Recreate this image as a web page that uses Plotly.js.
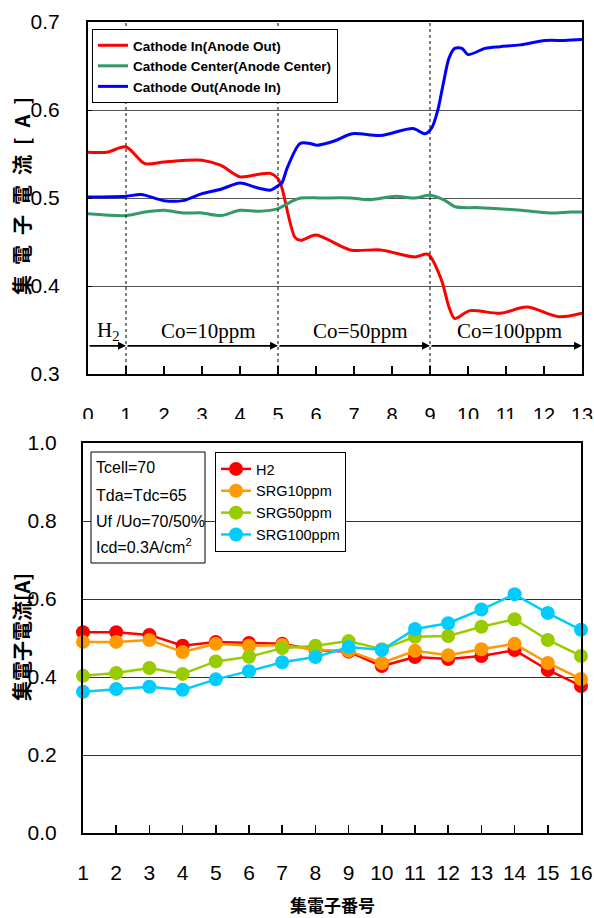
<!DOCTYPE html>
<html>
<head>
<meta charset="utf-8">
<script src="https://cdn.plot.ly/plotly-3.0.1.min.js"></script>
<style>html,body{margin:0;padding:0;background:#fff;}#chart{width:594px;height:918px;}</style>
</head>
<body>
<div id="chart"></div>
<script>
// ---- Top chart data (collector position 0..13) ----
const cathodeInX  = [0,0.5,1,1.5,2,3,3.5,4,4.5,4.8,5.0,5.1,5.45,5.6,6.0,6.9,7.7,8.6,8.95,9.3,9.5,9.65,10.05,10.85,11.55,12.4,13];
const cathodeInY  = [0.552,0.552,0.558,0.539,0.541,0.543,0.537,0.524,0.527,0.528,0.522,0.512,0.455,0.452,0.458,0.441,0.441,0.433,0.436,0.407,0.376,0.363,0.372,0.369,0.376,0.365,0.369];
const centerX     = [0,1,1.5,2,2.5,3,3.5,4,4.5,5,5.4,5.6,6.1,6.9,7.4,8.1,8.6,9.0,9.4,9.66,10.3,11.4,12.15,12.7,13];
const centerY     = [0.482,0.480,0.484,0.486,0.483,0.483,0.480,0.486,0.485,0.488,0.497,0.500,0.500,0.500,0.498,0.502,0.500,0.503,0.497,0.490,0.489,0.486,0.483,0.484,0.484];
const cathodeOutX = [0,1,1.4,2,2.5,3,3.5,4,4.5,4.8,5.0,5.1,5.25,5.58,5.84,6.03,6.5,6.95,7.7,8.55,8.87,9.05,9.2,9.35,9.5,9.65,9.84,10.0,10.45,10.84,11.37,12.03,12.55,13];
const cathodeOutY = [0.501,0.502,0.504,0.497,0.497,0.505,0.510,0.517,0.511,0.509,0.514,0.517,0.535,0.562,0.562,0.560,0.565,0.573,0.571,0.579,0.573,0.580,0.599,0.630,0.659,0.670,0.670,0.663,0.670,0.672,0.674,0.679,0.679,0.680];
const topNames = ["Cathode In(Anode Out)","Cathode Center(Anode Center)","Cathode Out(Anode In)"];
const topTicks = [0,1,2,3,4,5,6,7,8,9,10,11,12,13];
const phaseBounds = [0,1,5,9,13];
const phaseLabels = ["H<sub>2</sub>","Co=10ppm","Co=50ppm","Co=100ppm"];
const phaseLabelX = [0.53,3.16,7.16,11.1];

// ---- Bottom chart data (collector number 1..16) ----
const collector = [1,2,3,4,5,6,7,8,9,10,11,12,13,14,15,16];
const h2     = [0.515,0.515,0.508,0.480,0.490,0.487,0.485,0.469,0.465,0.428,0.451,0.446,0.454,0.469,0.418,0.377];
const srg10  = [0.490,0.490,0.495,0.464,0.485,0.480,0.482,0.470,0.467,0.436,0.467,0.456,0.471,0.485,0.436,0.395];
const srg50  = [0.403,0.410,0.423,0.408,0.440,0.452,0.474,0.480,0.492,0.471,0.503,0.505,0.529,0.548,0.495,0.454];
const srg100 = [0.362,0.369,0.375,0.367,0.394,0.415,0.438,0.451,0.477,0.469,0.523,0.538,0.573,0.612,0.564,0.521];
const bottomNames = ["H2","SRG10ppm","SRG50ppm","SRG100ppm"];
const conditions = ["Tcell=70","Tda=Tdc=65","Uf /Uo=70/50%","Icd=0.3A/cm<sup>2</sup>"];

const SANS = "Liberation Sans, Arial, sans-serif";
const CJK = "Noto Sans CJK JP, sans-serif";
const SERIF = "Liberation Serif, Times New Roman, serif";

const topColors = ["#ff0000","#339966","#0000ff"];
const bottomColors = ["#ff0000","#ff9900","#99cc00","#00ccff"];

const traces = [];
[[cathodeInX,cathodeInY],[centerX,centerY],[cathodeOutX,cathodeOutY]].forEach((d,i)=>{
  traces.push({x:d[0],y:d[1],type:"scatter",mode:"lines",name:topNames[i],
    line:{color:topColors[i],width:3,shape:"spline",smoothing:0.8},
    xaxis:"x",yaxis:"y",legend:"legend"});
});
[h2,srg10,srg50,srg100].forEach((d,i)=>{
  traces.push({x:collector,y:d,type:"scatter",mode:"lines+markers",name:bottomNames[i],
    line:{color:bottomColors[i],width:2.5},marker:{color:bottomColors[i],size:14},
    cliponaxis:false,xaxis:"x2",yaxis:"y2",legend:"legend2"});
});

const P = (px)=>1-px/918;
const annotations = [];
// phase arrows and labels
for(let i=0;i<phaseBounds.length-1;i++){
  annotations.push({xref:"x",yref:"y",axref:"x",ayref:"y",x:phaseBounds[i+1],y:0.332,ax:phaseBounds[i],ay:0.332,
    text:"",showarrow:true,arrowhead:2,arrowsize:1,arrowwidth:1.6,arrowcolor:"#000"});
  annotations.push({xref:"x",yref:"y",x:phaseLabelX[i],y:0.349,xanchor:"center",yanchor:"middle",text:phaseLabels[i],showarrow:false,
    font:{family:SERIF,size:21,color:"#000"}});
}
// axis titles
annotations.push({xref:"paper",yref:"paper",x:22/594,y:P(196),xanchor:"center",yanchor:"middle",
  text:"<b>集\u2002電\u2002子\u2002電\u2002流\u2002[\u2002A\u2002]</b>",
  textangle:-90,showarrow:false,font:{family:CJK,size:20,color:"#000"}});
annotations.push({xref:"paper",yref:"paper",x:21/594,y:P(637),xanchor:"center",yanchor:"middle",text:"<b>集電子電流[A]</b>",
  textangle:-90,showarrow:false,font:{family:CJK,size:20,color:"#000"}});
annotations.push({xref:"paper",yref:"paper",x:333/594,y:P(904),xanchor:"center",yanchor:"middle",text:"<b>集電子番号</b>",
  showarrow:false,font:{family:CJK,size:17,color:"#000"}});
// conditions box lines
const condY = [468,495,521,546];
conditions.forEach((t,i)=>{
  annotations.push({xref:"paper",yref:"paper",x:94/594,y:P(condY[i]),xanchor:"left",yanchor:"middle",align:"left",
    text:t,showarrow:false,font:{family:SANS,size:16,color:"#000"}});
});

const shapes = [];
[1,5,9].forEach(v=>{
  shapes.push({type:"line",xref:"x",yref:"y",x0:v,x1:v,y0:0.3,y1:0.7,line:{color:"#000",width:1,dash:"3px,3px"},layer:"above"});
});
// conditions box frame
shapes.push({type:"rect",xref:"paper",yref:"paper",x0:91/594,x1:205/594,y0:P(563),y1:P(452),fillcolor:"#fff",line:{color:"#000",width:1},layer:"above"});
// clip of the upper tick labels as in the reference
shapes.push({type:"rect",xref:"paper",yref:"paper",x0:0,x1:1,y0:P(432),y1:P(419),fillcolor:"#fff",line:{width:0},layer:"above"});

const axCommon = {showline:true,linecolor:"#000",linewidth:2,mirror:true,zeroline:false,ticks:"inside",tickcolor:"#000",automargin:false,ticklabeloverflow:"allow"};

const layout = {
  width:594,height:918,margin:{l:0,r:0,t:0,b:0},
  paper_bgcolor:"#fff",plot_bgcolor:"#fff",
  font:{family:SANS,color:"#000"},
  showlegend:true,
  xaxis:Object.assign({},axCommon,{domain:[88/594,582/594],range:[0,13],anchor:"y",tickvals:topTicks,
    ticklen:8,tickwidth:1.5,showgrid:false,tickfont:{size:20,family:SANS},ticklabelstandoff:22}),
  yaxis:Object.assign({},axCommon,{domain:[P(374),P(22)],range:[0.3,0.7],dtick:0.1,tickformat:".1f",anchor:"x",
    ticklen:4,showgrid:true,gridcolor:"#555",gridwidth:1,tickfont:{size:21,family:SANS},ticklabelstandoff:22}),
  xaxis2:Object.assign({},axCommon,{domain:[83/594,581/594],range:[1,16],anchor:"y2",tickvals:collector,
    ticklen:8,tickwidth:1.5,showgrid:false,tickfont:{size:21,family:SANS},ticklabelstandoff:20}),
  yaxis2:Object.assign({},axCommon,{domain:[P(833),P(443)],range:[0,1],dtick:0.2,tickformat:".1f",anchor:"x2",
    ticklen:0,showgrid:true,gridcolor:"#333",gridwidth:1,tickfont:{size:21,family:SANS},ticklabelstandoff:20}),
  legend:{x:92/594,y:P(29),xanchor:"left",yanchor:"top",bgcolor:"#fff",bordercolor:"#000",borderwidth:1,
    font:{family:SANS,size:13.5,color:"#000",weight:"bold"},tracegroupgap:0,itemwidth:30},
  legend2:{x:215/594,y:P(452),xanchor:"left",yanchor:"top",bgcolor:"#fff",bordercolor:"#000",borderwidth:1,
    font:{family:SANS,size:14.5,color:"#000"},tracegroupgap:0,itemwidth:30},
  annotations:annotations,
  shapes:shapes
};

Plotly.newPlot("chart",traces,layout,{displayModeBar:false,staticPlot:true});
</script>
</body>
</html>
